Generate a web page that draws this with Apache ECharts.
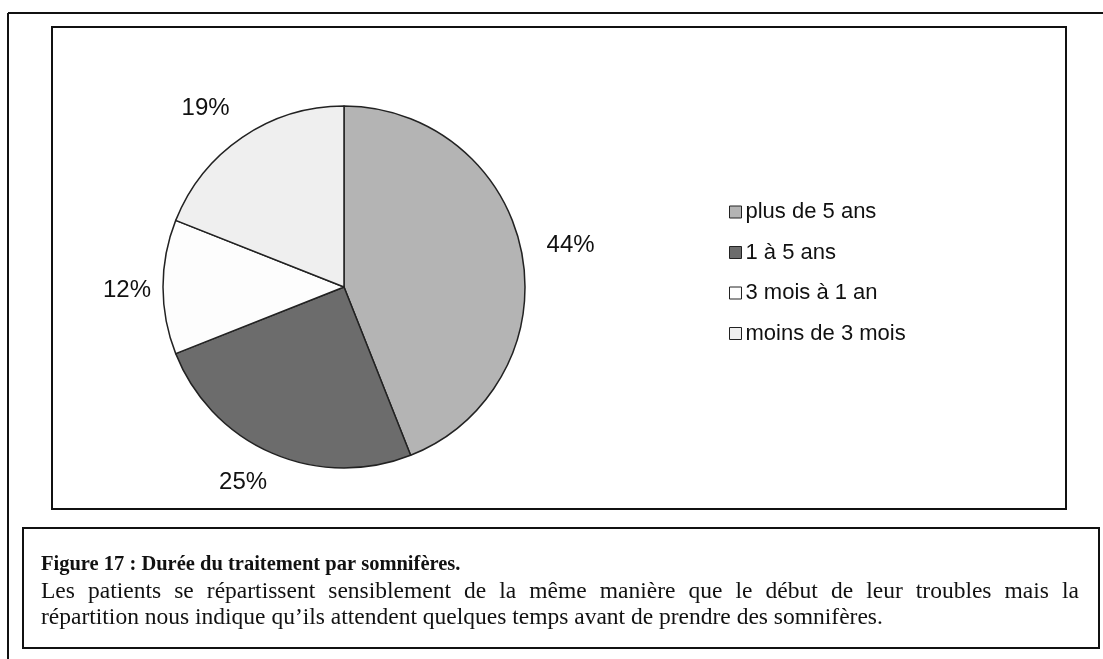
<!DOCTYPE html>
<html lang="fr">
<head>
<meta charset="UTF-8">
<title>Durée du traitement par somnifères</title>
<script src="https://cdn.jsdelivr.net/npm/echarts@6/dist/echarts.min.js"></script>
<style>
  html, body { margin: 0; padding: 0; background: #fff; }
  #main { width: 1103px; height: 659px; }
</style>
</head>
<body>
<div id="main"></div>
<script>
// données
var categories = ['plus de 5 ans', '1 à 5 ans', '3 mois à 1 an', 'moins de 3 mois'];
var values = [44, 25, 12, 19];
var sliceColors = ['#b4b4b4', '#6c6c6c', '#fdfdfd', '#efefef'];
// petit décalage des étiquettes (px), comme dans Excel
var labelDx = [10, 4, 3, -2];
var labelDy = [-6, 20, 3, -21];

var captionTitle = 'Figure 17 : Durée du traitement par somnifères.';
var captionLine1 = 'Les patients se répartissent sensiblement de la même manière que le début de leur troubles mais la';
var captionLine2 = 'répartition nous indique qu\u2019ils attendent quelques temps avant de prendre des somnifères.';

var myChart = echarts.init(document.getElementById('main'));

var serif = '"Liberation Serif", "Times New Roman", serif';
var sans = '"Liberation Sans", Arial, sans-serif';
var bodyFont = '23.5px ' + serif;

var pieData = [];
for (var i = 0; i < categories.length; i++) {
    pieData.push({ name: categories[i], value: values[i], itemStyle: { color: sliceColors[i] } });
}

function textItem(x, y, text, font) {
    return { type: 'text', style: { x: x, y: y, text: text, font: font, fill: '#111', verticalAlign: 'middle' } };
}

// première ligne justifiée : un texte par mot
function justifiedLine(text, x0, x1, y, font) {
    var ctx = document.createElement('canvas').getContext('2d');
    ctx.font = font;
    var words = text.split(' ');
    var total = 0;
    var widths = words.map(function (w) { var m = ctx.measureText(w).width; total += m; return m; });
    var gap = (x1 - x0 - total) / (words.length - 1);
    var out = [];
    var x = x0;
    for (var k = 0; k < words.length; k++) {
        out.push(textItem(x, y, words[k], font));
        x += widths[k] + gap;
    }
    return out;
}

var graphics = [
    // cadre extérieur (haut + gauche)
    { type: 'line', shape: { x1: 8, y1: 13, x2: 1103, y2: 13 }, style: { stroke: '#111', lineWidth: 2 } },
    { type: 'line', shape: { x1: 8, y1: 13, x2: 8, y2: 659 }, style: { stroke: '#111', lineWidth: 2 } },
    // cadre du graphique
    { type: 'rect', shape: { x: 52, y: 27, width: 1014, height: 482 }, style: { fill: 'none', stroke: '#111', lineWidth: 2 } },
    // cadre de la légende de figure
    { type: 'rect', shape: { x: 23, y: 528, width: 1076, height: 120 }, style: { fill: 'none', stroke: '#111', lineWidth: 2 } },
    textItem(41, 565, captionTitle, 'bold 20.5px ' + serif),
    textItem(41, 618, captionLine2, bodyFont)
].concat(justifiedLine(captionLine1, 41, 1079, 592, bodyFont));

option = {
    animation: false,
    backgroundColor: '#fff',
    legend: {
        orient: 'vertical',
        left: 724,
        top: 196,
        icon: 'rect',
        itemWidth: 12,
        itemHeight: 12,
        itemGap: 18.5,
        selectedMode: false,
        itemStyle: { borderColor: '#222', borderWidth: 1 },
        textStyle: { fontFamily: sans, fontSize: 22, lineHeight: 22, color: '#111', padding: [0, 0, 0, -1] },
        data: categories
    },
    graphic: graphics,
    series: [
        {
            name: 'Durée',
            type: 'pie',
            center: [344, 287],
            radius: 181,
            startAngle: 90,
            clockwise: true,
            avoidLabelOverlap: false,
            itemStyle: { borderColor: '#222', borderWidth: 1.5 },
            label: {
                show: true,
                position: 'outside',
                formatter: '{d}%',
                fontFamily: sans,
                fontSize: 24,
                color: '#111'
            },
            labelLine: { show: false, length: 10, length2: 0 },
            labelLayout: function (params) {
                return { dx: labelDx[params.dataIndex], dy: labelDy[params.dataIndex] };
            },
            emphasis: { disabled: true },
            data: pieData
        }
    ]
};

myChart.setOption(option);
</script>
</body>
</html>
